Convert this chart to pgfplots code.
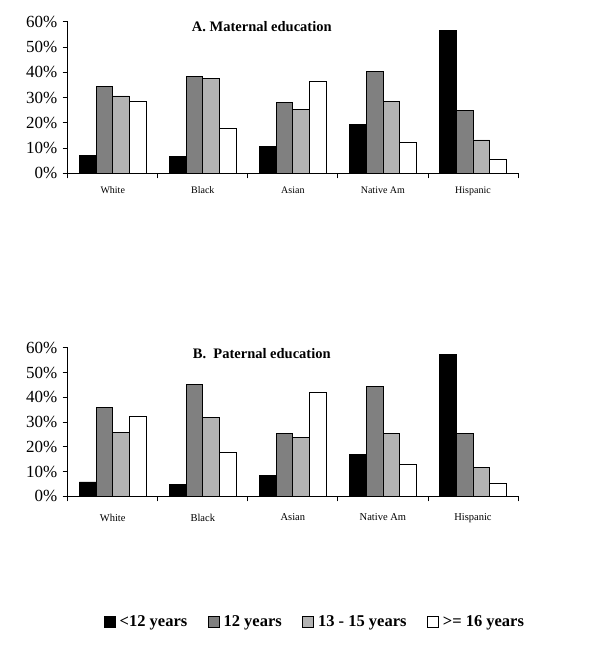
\documentclass[border=0pt]{standalone}
\usepackage{fontspec}
\setmainfont{Liberation Serif}
\usepackage{pgfplots}
\pgfplotsset{compat=1.18}
\definecolor{dg}{HTML}{808080}
\definecolor{lg}{HTML}{B3B3B3}
\pgfplotsset{
  edu/.style={
    scale only axis, width=450.3pt,
    ybar=0pt, bar width=16.7pt,
    xmin=-0.5, xmax=4.5, ymin=0, ymax=60,
    axis lines*=left,
    xtick={-0.5,0.5,1.5,2.5,3.5,4.5},
    x tick label as interval,
    xticklabels={White,Black,Asian,Native Am,Hispanic},
    ytick={0,10,20,30,40,50,60},
    yticklabel={\pgfmathprintnumber{\tick}\%},
    tick align=outside, major tick length=5pt,
    tick style={black, line width=0.8pt},
    axis line style={black, line width=1.1pt},
    /pgf/number format/assume math mode=true,
    yticklabel style={font=\fontsize{17}{17}\selectfont, xshift=-2pt},
    xticklabel style={font=\fontsize{10}{10}\selectfont, yshift=-5pt},
    clip=false,
  },
  sq/.style={draw=black, line width=0.8pt, fill=#1,
    legend image code/.code={\draw[##1, line width=0.8pt] (0pt,-5.5pt) rectangle (11pt,5.5pt);}},
}
\begin{document}
\begin{tikzpicture}
\path[use as bounding box] (0,0) rectangle (600pt,-652pt);
\begin{axis}[edu, height=151.6pt, at={(67.7pt,-173.3pt)}, anchor=south west]
\addplot[sq=black] coordinates {(0,7.0) (1,6.7) (2,10.7) (3,19.5) (4,56.6)};
\addplot[sq=dg] coordinates {(0,34.4) (1,38.4) (2,28.1) (3,40.4) (4,24.8)};
\addplot[sq=lg] coordinates {(0,30.6) (1,37.5) (2,25.3) (3,28.4) (4,13.2)};
\addplot[sq=white] coordinates {(0,28.5) (1,17.7) (2,36.3) (3,12.1) (4,5.4)};
\node[font=\bfseries\fontsize{14.5}{14.5}\selectfont] at (rel axis cs:0.431,0.965) {A. Maternal education};
\end{axis}
\begin{axis}[edu, height=148.6pt, at={(67.7pt,-496.3pt)}, anchor=south west,
  xticklabel style={font=\fontsize{10.5}{10.5}\selectfont, yshift=-4pt},
  legend columns=4,
  legend style={draw=none, fill=none, at={(rel axis cs:0.08,-0.846)}, anchor=west,
    font=\bfseries\fontsize{16.5}{16.5}\selectfont, inner sep=0pt,
    /tikz/every odd column/.append style={column sep=2pt},
    /tikz/every even column/.append style={column sep=18.5pt}},
  legend cell align=left]
\addplot[sq=black] coordinates {(0,5.8) (1,4.7) (2,8.3) (3,16.8) (4,57.1)};
\addplot[sq=dg] coordinates {(0,35.7) (1,45.1) (2,25.4) (3,44.4) (4,25.2)};
\addplot[sq=lg] coordinates {(0,25.7) (1,32.0) (2,23.7) (3,25.3) (4,11.8)};
\addplot[sq=white] coordinates {(0,32.3) (1,17.8) (2,42.1) (3,12.9) (4,5.4)};
\legend{<12 years, 12 years, 13 - 15 years, >= 16 years}
\node[font=\bfseries\fontsize{14.5}{14.5}\selectfont] at (rel axis cs:0.431,0.958) {B.\ \ Paternal education};
\end{axis}
\end{tikzpicture}
\end{document}
